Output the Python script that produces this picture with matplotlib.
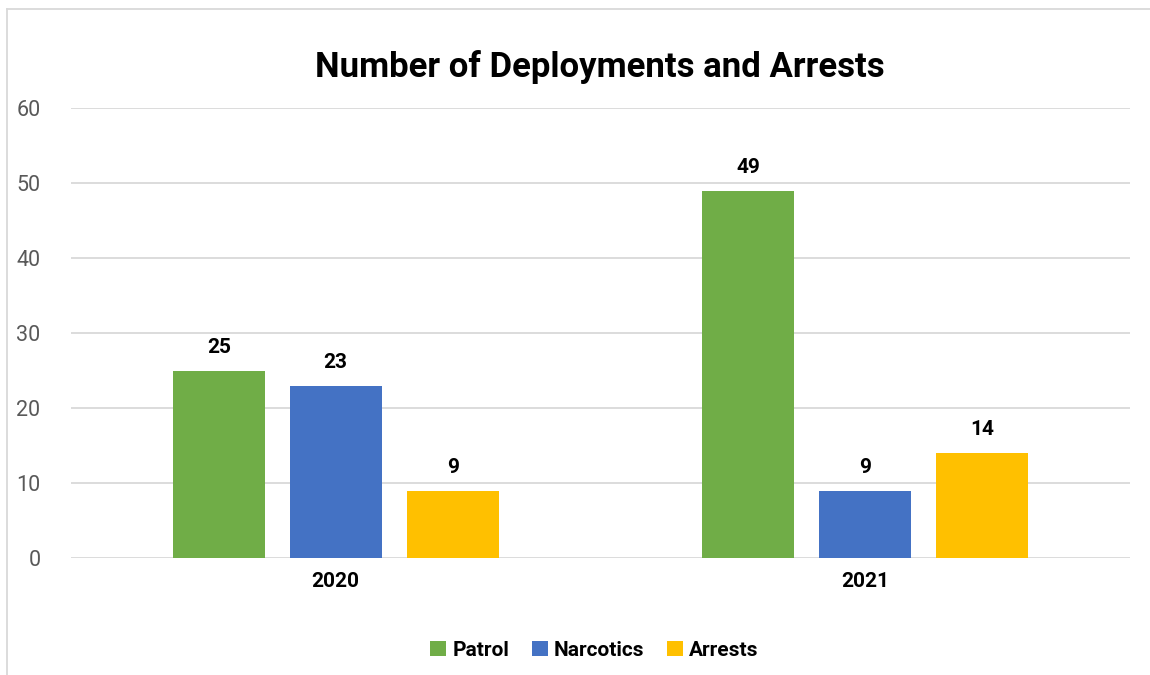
import numpy as np
import matplotlib.pyplot as plt
from matplotlib.lines import Line2D

# Daten
years = ["2020", "2021"]
series = ["Patrol", "Narcotics", "Arrests"]
values = {
    "Patrol": [25, 49],
    "Narcotics": [23, 9],
    "Arrests": [9, 14],
}
colors = ["#70AD47", "#4472C4", "#FFC000"]
y_ticks = [0, 10, 20, 30, 40, 50, 60]

plt.rcParams['font.family'] = ['Roboto', 'DejaVu Sans']

fig = plt.figure(figsize=(11.5, 6.75), dpi=100)
ax = fig.add_axes([71 / 1150, 1 - 558 / 675, (1130 - 71) / 1150, 450 / 675])

x = np.arange(len(years))
width = 0.174
step = 0.221

for i, (name, col) in enumerate(zip(series, colors)):
    pos = x + (i - 1) * step
    bars = ax.bar(pos, values[name], width=width, color=col, label=name, zorder=3)
    for b, v in zip(bars, values[name]):
        ax.annotate(str(v), (b.get_x() + b.get_width() / 2, v), xytext=(0, 10),
                    textcoords="offset points", ha="center", va="bottom",
                    fontsize=15, fontweight="bold", color="#000000")

ax.set_xlim(-0.5, 1.5)
ax.set_ylim(0, 60)
ax.set_yticks(y_ticks)
ax.set_xticks(x)
ax.set_xticklabels(years, fontsize=15, fontweight="bold", color="#000000")
ax.tick_params(axis="y", labelsize=15.5, labelcolor="#595959", length=0, pad=22)
ax.tick_params(axis="x", length=0, pad=10)
ax.grid(axis="y", color="#D9D9D9", lw=1.3, zorder=0)
for s in ax.spines.values():
    s.set_visible(False)

fig.text(0.522, 1 - 67 / 675, "Number of Deployments and Arrests", ha="center", va="center",
         fontsize=25, fontweight="bold", color="#000000")

leg = fig.legend(loc="center", bbox_to_anchor=(0.517, 1 - 650 / 675), ncol=3, frameon=False,
                 prop={"size": 15, "weight": "bold"}, handlelength=0.75, handleheight=0.75,
                 handletextpad=0.3, columnspacing=1.1)

# Rahmen (nur links und oben sichtbar)
fig.add_artist(Line2D([7 / 1150, 7 / 1150], [0, 1 - 9 / 675], transform=fig.transFigure,
                      color="#D9D9D9", lw=1.3))
fig.add_artist(Line2D([7 / 1150, 1], [1 - 9 / 675, 1 - 9 / 675], transform=fig.transFigure,
                      color="#D9D9D9", lw=1.3))

fig.savefig("out.png", dpi=100)
